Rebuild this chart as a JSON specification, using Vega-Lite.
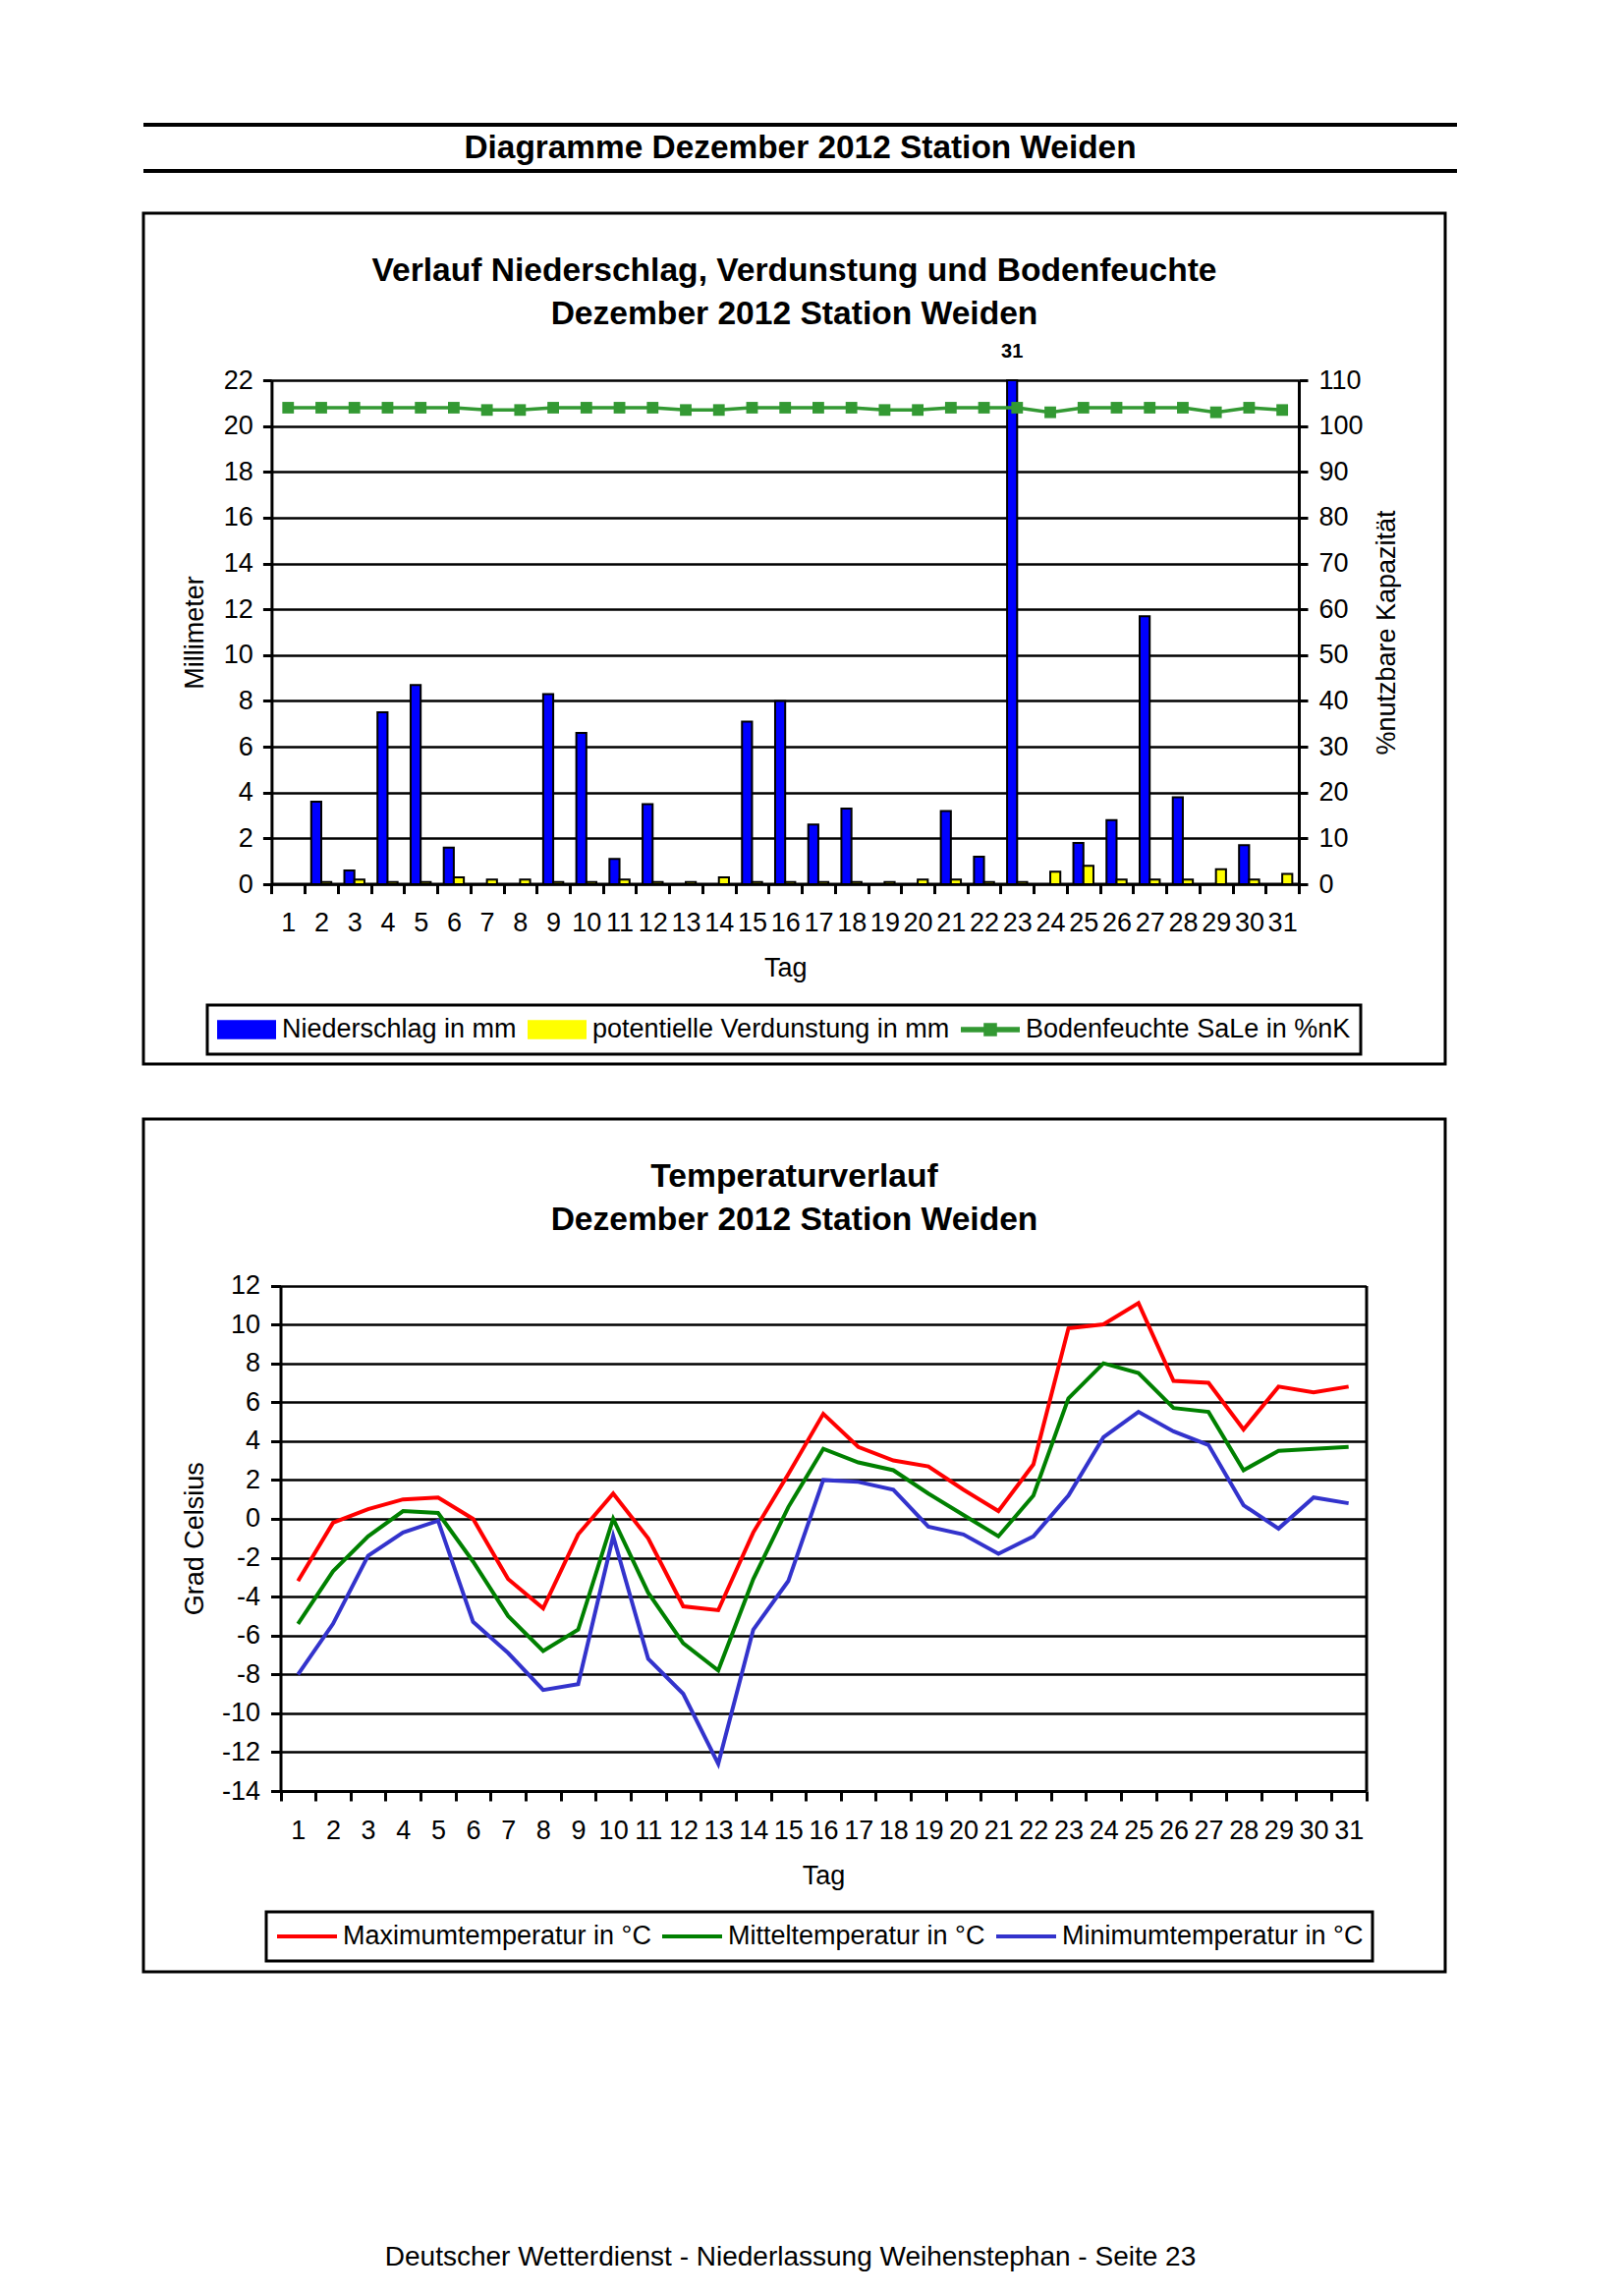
{
  "$schema": "https://vega.github.io/schema/vega-lite/v6.json",
  "padding": {"top": 125, "left": 144, "right": 0, "bottom": 0},
  "background": "white",
  "title": {
    "text": "Deutscher Wetterdienst - Niederlassung Weihenstephan - Seite 23",
    "orient": "bottom",
    "anchor": "middle",
    "offset": 275,
    "fontSize": 28,
    "fontWeight": "normal",
    "dx": -10
  },
  "spacing": 39,
  "vconcat": [
    {
      "width": 1337,
      "height": 47,
      "layer": [
        {
          "data": {"values": [{"p": 0}, {"p": 1}]},
          "mark": {"type": "rule", "strokeWidth": 4, "color": "black"},
          "encoding": {
            "y": {"field": "p", "type": "quantitative", "scale": {"domain": [0, 1]}, "axis": null}
          }
        },
        {
          "data": {"values": [{"t": "Diagramme Dezember 2012 Station Weiden", "p": 0.5, "q": 0.5}]},
          "mark": {"type": "text", "fontSize": 33.4, "fontWeight": "bold", "baseline": "middle", "align": "center", "color": "black"},
          "encoding": {
            "x": {"field": "q", "type": "quantitative", "scale": {"domain": [0, 1]}, "axis": null},
            "y": {"field": "p", "type": "quantitative", "scale": {"domain": [0, 1]}, "axis": null},
            "text": {"field": "t"}
          }
        }
      ]
    },
    {
      "spacing": 52,
      "resolve": {
        "scale": {"color": "independent", "shape": "independent", "stroke": "independent"},
        "legend": {"color": "independent", "shape": "independent", "stroke": "independent"}
      },
      "vconcat": [
        {
          "width": 1325,
          "height": 866,
          "view": {"stroke": "black", "strokeWidth": 3},
          "title": {
            "text": ["Verlauf Niederschlag, Verdunstung und Bodenfeuchte", "Dezember 2012 Station Weiden"],
            "offset": -119.5,
            "lineHeight": 44,
            "fontSize": 33.6,
            "anchor": "middle",
            "frame": "group"
          },
          "data": {"values": [
            {"Tag": 1, "N": 0, "V": 0.0, "B": 104},
            {"Tag": 2, "N": 3.6, "V": 0.1, "B": 104},
            {"Tag": 3, "N": 0.6, "V": 0.2, "B": 104},
            {"Tag": 4, "N": 7.5, "V": 0.1, "B": 104},
            {"Tag": 5, "N": 8.7, "V": 0.1, "B": 104},
            {"Tag": 6, "N": 1.6, "V": 0.3, "B": 104},
            {"Tag": 7, "N": 0, "V": 0.2, "B": 103.5},
            {"Tag": 8, "N": 0, "V": 0.2, "B": 103.5},
            {"Tag": 9, "N": 8.3, "V": 0.1, "B": 104},
            {"Tag": 10, "N": 6.6, "V": 0.1, "B": 104},
            {"Tag": 11, "N": 1.1, "V": 0.2, "B": 104},
            {"Tag": 12, "N": 3.5, "V": 0.1, "B": 104},
            {"Tag": 13, "N": 0, "V": 0.1, "B": 103.5},
            {"Tag": 14, "N": 0, "V": 0.3, "B": 103.5},
            {"Tag": 15, "N": 7.1, "V": 0.1, "B": 104},
            {"Tag": 16, "N": 8.0, "V": 0.1, "B": 104},
            {"Tag": 17, "N": 2.6, "V": 0.1, "B": 104},
            {"Tag": 18, "N": 3.3, "V": 0.1, "B": 104},
            {"Tag": 19, "N": 0, "V": 0.1, "B": 103.5},
            {"Tag": 20, "N": 0, "V": 0.2, "B": 103.5},
            {"Tag": 21, "N": 3.2, "V": 0.2, "B": 104},
            {"Tag": 22, "N": 1.2, "V": 0.1, "B": 104},
            {"Tag": 23, "N": 31, "V": 0.1, "B": 104},
            {"Tag": 24, "N": 0, "V": 0.55, "B": 103},
            {"Tag": 25, "N": 1.8, "V": 0.8, "B": 104},
            {"Tag": 26, "N": 2.8, "V": 0.2, "B": 104},
            {"Tag": 27, "N": 11.7, "V": 0.2, "B": 104},
            {"Tag": 28, "N": 3.8, "V": 0.2, "B": 104},
            {"Tag": 29, "N": 0, "V": 0.65, "B": 103},
            {"Tag": 30, "N": 1.7, "V": 0.2, "B": 104},
            {"Tag": 31, "N": 0, "V": 0.45, "B": 103.5}
          ]},
          "encoding": {
            "x": {
              "field": "Tag", "type": "ordinal",
              "scale": {"type": "band", "range": [130.4, 1176], "paddingInner": 0, "paddingOuter": 0},
              "axis": {"title": "Tag", "labelAngle": 0, "tickBand": "extent", "offset": -183.4, "tickSize": 10, "labelPadding": 17, "titlePadding": 20, "labelOverlap": false, "grid": false}
            }
          },
          "layer": [
            {
              "transform": [{"fold": ["N", "V"], "as": ["reihe", "mm"]}],
              "layer": [
                {
                  "mark": {"type": "bar", "strokeWidth": 2, "opacity": 1},
                  "encoding": {
                    "xOffset": {"field": "reihe", "type": "nominal", "scale": {"paddingInner": 0, "paddingOuter": 0.65}},
                    "y": {
                      "field": "mm", "type": "quantitative",
                      "scale": {"domain": [0, 22], "range": [683, 170], "clamp": true, "nice": false, "zero": true},
                      "axis": {"title": "Millimeter", "orient": "left", "values": [0, 2, 4, 6, 8, 10, 12, 14, 16, 18, 20, 22], "offset": -130.4, "tickSize": 9, "labelPadding": 10, "titlePadding": 15, "grid": true}
                    },
                    "color": {
                      "field": "reihe", "type": "nominal",
                      "scale": {"domain": ["N", "V", "B"], "range": ["#0000ff", "#ffff00", "#339933"]},
                      "legend": {
                        "title": null, "legendX": 65, "legendY": 806, "padding": 10, "clipHeight": 30,
                        "labelOffset": 6, "columnPadding": 11, "symbolSize": 3364, "symbolStrokeWidth": 2,
                        "labelExpr": "datum.value == 'N' ? 'Niederschlag in mm' : datum.value == 'V' ? 'potentielle Verdunstung in mm' : 'Bodenfeuchte SaLe in %nK'"
                      }
                    },
                    "stroke": {
                      "field": "reihe", "type": "nominal",
                      "scale": {"domain": ["N", "V", "B"], "range": ["black", "black", "transparent"]},
                      "legend": {
                        "title": null, "legendX": 65, "legendY": 806, "padding": 10, "clipHeight": 30,
                        "labelOffset": 6, "columnPadding": 11, "symbolSize": 3364, "symbolStrokeWidth": 2,
                        "labelExpr": "datum.value == 'N' ? 'Niederschlag in mm' : datum.value == 'V' ? 'potentielle Verdunstung in mm' : 'Bodenfeuchte SaLe in %nK'"
                      }
                    }
                  }
                },
                {
                  "transform": [{"filter": "datum.reihe == 'N' && datum.mm > 22"}],
                  "mark": {"type": "text", "fontSize": 20, "fontWeight": "bold", "baseline": "bottom", "dy": -19, "color": "black"},
                  "encoding": {
                    "xOffset": {"field": "reihe", "type": "nominal"},
                    "y": {"field": "mm", "type": "quantitative"},
                    "text": {"field": "mm", "type": "quantitative"}
                  }
                }
              ]
            },
            {
              "encoding": {
                "y": {
                  "field": "B", "type": "quantitative",
                  "scale": {"domain": [0, 110], "range": [683, 170], "nice": false, "zero": true},
                  "axis": {"title": "%nutzbare Kapazität", "orient": "right", "values": [0, 10, 20, 30, 40, 50, 60, 70, 80, 90, 100, 110], "offset": -149, "tickSize": 9, "labelPadding": 11, "titlePadding": 11, "titleAngle": 270, "titleBaseline": "top", "grid": false}
                },
                "color": {"datum": "B"}
              },
              "layer": [
                {"mark": {"type": "line", "strokeWidth": 3.5, "opacity": 1}},
                {"mark": {"type": "square", "size": 140, "opacity": 1}},
                {
                  "transform": [{"filter": "datum.Tag > 99"}],
                  "mark": {"type": "point", "filled": true, "size": 3306, "opacity": 1, "strokeWidth": 0},
                  "encoding": {
                    "shape": {
                      "datum": "B",
                      "scale": {"domain": ["N", "V", "B"], "range": ["M-1,-0.3L1,-0.3L1,0.3L-1,0.3Z", "M-1,-0.3L1,-0.3L1,0.3L-1,0.3Z", "M-1,-0.06L-0.2,-0.06L-0.2,-0.2L0.2,-0.2L0.2,-0.06L1,-0.06L1,0.06L0.2,0.06L0.2,0.2L-0.2,0.2L-0.2,0.06L-1,0.06Z"]},
                      "legend": {
                        "title": null, "legendX": 65, "legendY": 806, "padding": 10, "clipHeight": 30,
                        "labelOffset": 6, "columnPadding": 11, "symbolSize": 3364, "symbolStrokeWidth": 2,
                        "labelExpr": "datum.value == 'N' ? 'Niederschlag in mm' : datum.value == 'V' ? 'potentielle Verdunstung in mm' : 'Bodenfeuchte SaLe in %nK'"
                      }
                    }
                  }
                }
              ]
            }
          ],
          "resolve": {"scale": {"y": "independent"}}
        },
        {
          "width": 1325,
          "height": 868,
          "view": {"stroke": "black", "strokeWidth": 3},
          "title": {
            "text": ["Temperaturverlauf", "Dezember 2012 Station Weiden"],
            "offset": -119.5,
            "lineHeight": 44,
            "fontSize": 33.6,
            "anchor": "middle",
            "frame": "group"
          },
          "data": {"values": [
            {"Tag": 1, "Max": -3.2, "Mittel": -5.4, "Min": -8.0},
            {"Tag": 2, "Max": -0.2, "Mittel": -2.7, "Min": -5.4},
            {"Tag": 3, "Max": 0.5, "Mittel": -0.9, "Min": -1.9},
            {"Tag": 4, "Max": 1.0, "Mittel": 0.4, "Min": -0.7},
            {"Tag": 5, "Max": 1.1, "Mittel": 0.3, "Min": -0.1},
            {"Tag": 6, "Max": 0.0, "Mittel": -2.2, "Min": -5.3},
            {"Tag": 7, "Max": -3.1, "Mittel": -5.0, "Min": -6.9},
            {"Tag": 8, "Max": -4.6, "Mittel": -6.8, "Min": -8.8},
            {"Tag": 9, "Max": -0.8, "Mittel": -5.7, "Min": -8.5},
            {"Tag": 10, "Max": 1.3, "Mittel": 0.0, "Min": -0.9},
            {"Tag": 11, "Max": -1.0, "Mittel": -3.8, "Min": -7.2},
            {"Tag": 12, "Max": -4.5, "Mittel": -6.4, "Min": -9.0},
            {"Tag": 13, "Max": -4.7, "Mittel": -7.8, "Min": -12.6},
            {"Tag": 14, "Max": -0.7, "Mittel": -3.1, "Min": -5.7},
            {"Tag": 15, "Max": 2.3, "Mittel": 0.6, "Min": -3.2},
            {"Tag": 16, "Max": 5.4, "Mittel": 3.6, "Min": 2.0},
            {"Tag": 17, "Max": 3.7, "Mittel": 2.9, "Min": 1.9},
            {"Tag": 18, "Max": 3.0, "Mittel": 2.5, "Min": 1.5},
            {"Tag": 19, "Max": 2.7, "Mittel": 1.3, "Min": -0.4},
            {"Tag": 20, "Max": 1.5, "Mittel": 0.2, "Min": -0.8},
            {"Tag": 21, "Max": 0.4, "Mittel": -0.9, "Min": -1.8},
            {"Tag": 22, "Max": 2.8, "Mittel": 1.2, "Min": -0.9},
            {"Tag": 23, "Max": 9.8, "Mittel": 6.2, "Min": 1.2},
            {"Tag": 24, "Max": 10.0, "Mittel": 8.0, "Min": 4.2},
            {"Tag": 25, "Max": 11.1, "Mittel": 7.5, "Min": 5.5},
            {"Tag": 26, "Max": 7.1, "Mittel": 5.7, "Min": 4.5},
            {"Tag": 27, "Max": 7.0, "Mittel": 5.5, "Min": 3.8},
            {"Tag": 28, "Max": 4.6, "Mittel": 2.5, "Min": 0.7},
            {"Tag": 29, "Max": 6.8, "Mittel": 3.5, "Min": -0.5},
            {"Tag": 30, "Max": 6.5, "Mittel": 3.6, "Min": 1.1},
            {"Tag": 31, "Max": 6.8, "Mittel": 3.7, "Min": 0.8}
          ]},
          "transform": [{"fold": ["Max", "Mittel", "Min"], "as": ["reihe", "temp"]}],
          "encoding": {
            "x": {
              "field": "Tag", "type": "ordinal",
              "scale": {"type": "band", "range": [139.5, 1244.5], "paddingInner": 0, "paddingOuter": 0},
              "axis": {"title": "Tag", "labelAngle": 0, "tickBand": "extent", "offset": -184, "tickSize": 10, "labelPadding": 17, "titlePadding": 20, "labelOverlap": false, "grid": false}
            }
          },
          "layer": [
            {
              "mark": {"type": "line", "strokeWidth": 4, "opacity": 1},
              "encoding": {
                "y": {
                  "field": "temp", "type": "quantitative",
                  "scale": {"domain": [-14, 12], "range": [684, 169.5], "nice": false, "zero": false},
                  "axis": {"title": "Grad Celsius", "orient": "left", "values": [-14, -12, -10, -8, -6, -4, -2, 0, 2, 4, 6, 8, 10, 12], "labelExpr": "'' + datum.value", "offset": -139.5, "tickSize": 10, "labelPadding": 11, "titlePadding": 13, "grid": true}
                },
                "color": {
                  "field": "reihe", "type": "nominal",
                  "scale": {"domain": ["Max", "Mittel", "Min"], "range": ["#ff0000", "#008000", "#3333cc"]},
                  "legend": {
                    "title": null, "legendX": 125, "legendY": 807, "padding": 9, "clipHeight": 32,
                    "labelOffset": 4, "columnPadding": 9,
                    "symbolType": "stroke", "symbolSize": 3720, "symbolStrokeWidth": 4,
                    "labelExpr": "datum.value == 'Max' ? 'Maximumtemperatur in °C' : datum.value == 'Mittel' ? 'Mitteltemperatur in °C' : 'Minimumtemperatur in °C'"
                  }
                }
              }
            },
            {
              "mark": {"type": "line", "opacity": 0},
              "encoding": {
                "y": {
                  "field": "temp", "type": "quantitative",
                  "scale": {"domain": [-14, 12], "range": [684, 169.5], "nice": false, "zero": false},
                  "axis": {"orient": "right", "offset": -80.5, "labels": false, "ticks": false, "grid": false, "title": null, "domain": true}
                },
                "detail": {"field": "reihe"}
              }
            }
          ],
          "resolve": {"scale": {"y": "independent"}}
        }
      ]
    }
  ],
  "config": {
    "font": "Liberation Sans",
    "view": {"stroke": null},
    "axis": {
      "labelFont": "Liberation Sans", "titleFont": "Liberation Sans",
      "labelFontSize": 27, "titleFontSize": 27, "labelColor": "black", "titleColor": "black",
      "titleFontWeight": "normal", "domainColor": "black", "tickColor": "black", "gridColor": "black",
      "domainWidth": 3, "tickWidth": 3, "gridWidth": 2.5, "gridOpacity": 1
    },
    "title": {"font": "Liberation Sans", "fontSize": 33, "fontWeight": "bold", "color": "black"},
    "legend": {
      "labelFont": "Liberation Sans", "labelFontSize": 27, "labelColor": "black", "labelLimit": 800,
      "orient": "none", "direction": "horizontal", "columns": 3,
      "strokeColor": "black", "strokeWidth": 3
    }
  }
}
